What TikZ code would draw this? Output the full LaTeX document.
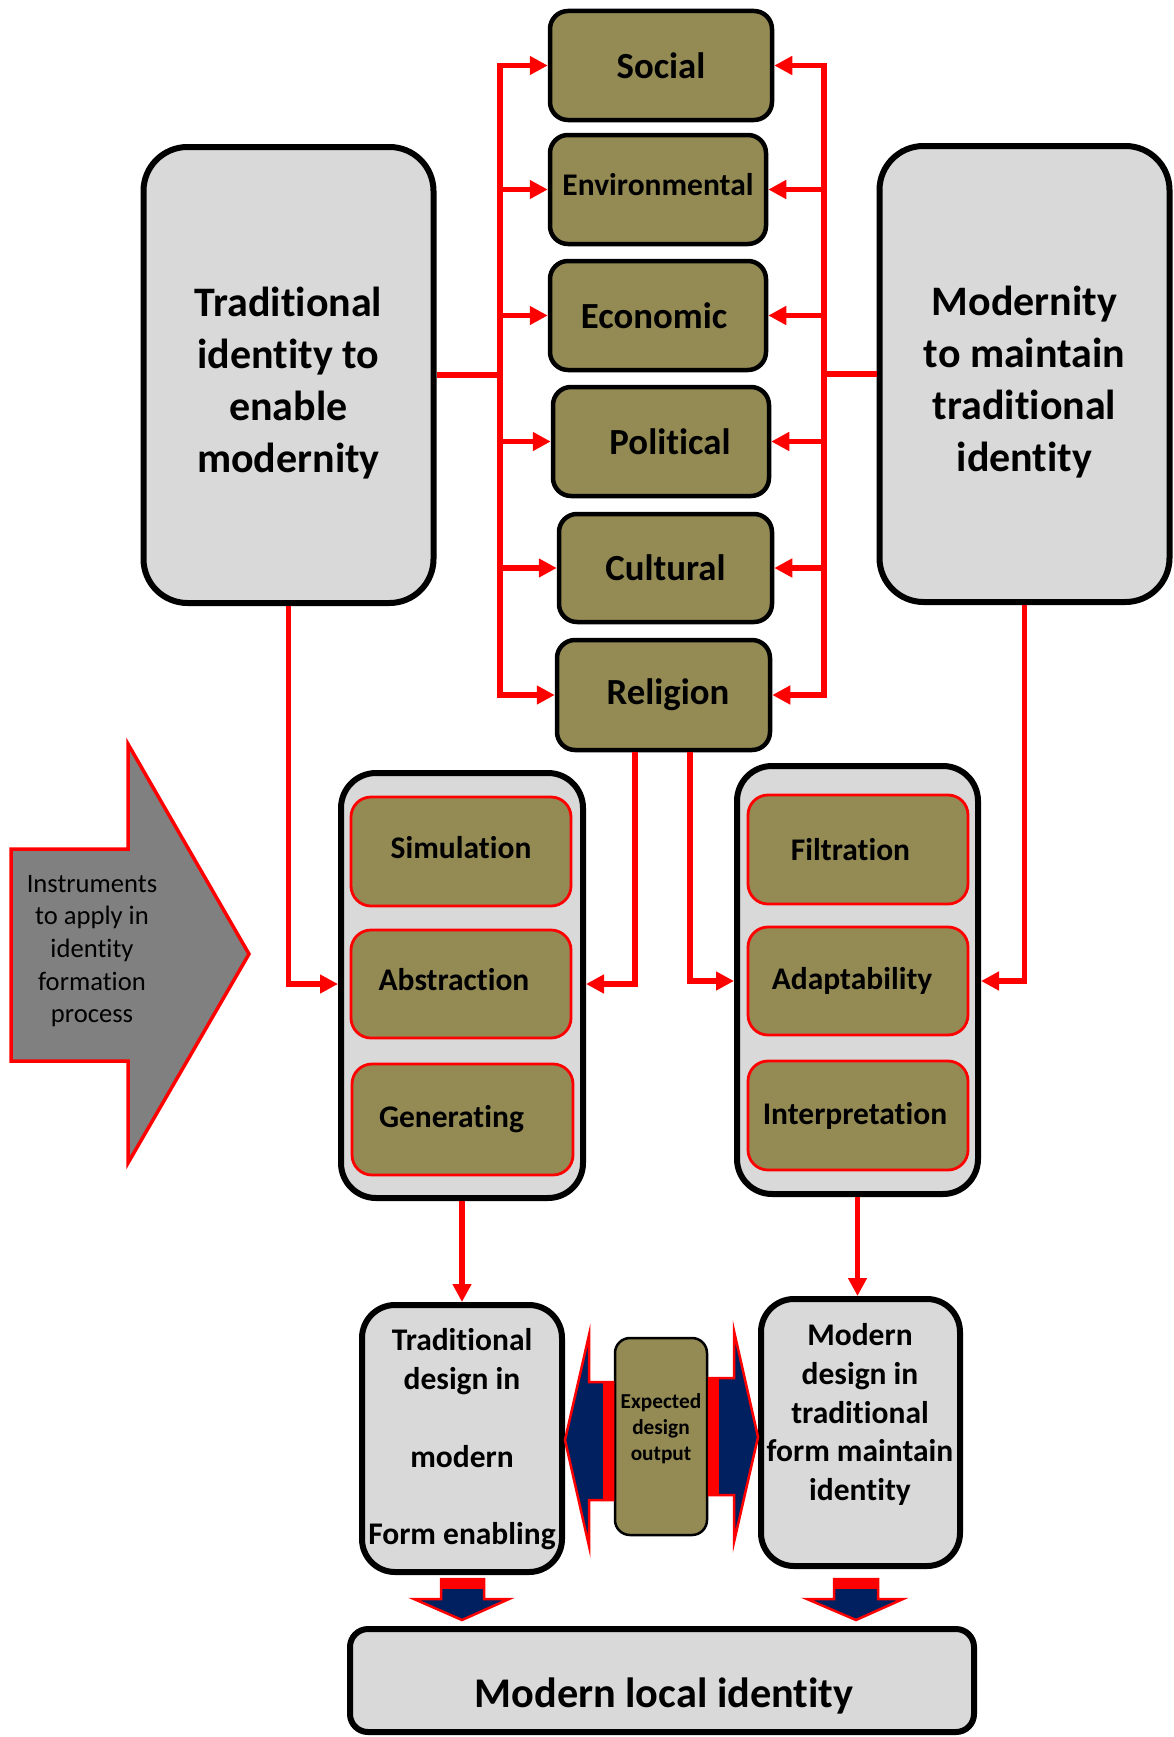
\documentclass[tikz,border=0pt]{standalone}
\usepackage{fontspec}
\setmainfont{Carlito}[Ligatures={NoCommon,NoRequired,NoContextual,NoRare}]
\usetikzlibrary{arrows.meta,calc}
\definecolor{boxolive}{HTML}{948A54}
\definecolor{boxgray}{HTML}{D9D9D9}
\definecolor{arrgray}{HTML}{808080}
\definecolor{navyfill}{HTML}{002060}
\begin{document}
\begin{tikzpicture}[x=1pt,y=-1pt,
  cat/.style={draw=black, line width=4.5pt, fill=boxolive, rounded corners=18pt, inner sep=0pt,
    font=\bfseries\fontsize{36.8}{44}\selectfont},
  bigbox/.style={draw=black, line width=6pt, fill=boxgray, rounded corners=44pt, inner sep=0pt},
  bigtext/.style={align=center, inner sep=0pt, font=\bfseries\fontsize{42}{52}\selectfont},
  grp/.style={draw=black, line width=6pt, fill=boxgray, rounded corners=35pt, inner sep=0pt},
  tool/.style={draw=red, line width=2.8pt, fill=boxolive, rounded corners=20pt, inner sep=0pt,
    font=\bfseries\fontsize{31.5}{38}\selectfont},
  outbox/.style={draw=black, line width=6pt, fill=boxgray, rounded corners=33pt, inner sep=0pt},
  outtext/.style={align=center, inner sep=0pt, font=\bfseries\fontsize{31.5}{38.8}\selectfont},
  rline/.style={draw=red, line width=5.5pt},
  rarrow/.style={rline, -{Triangle[length=18pt,width=18pt]}},
  rboth/.style={rline, {Triangle[length=18pt,width=18pt]}-{Triangle[length=18pt,width=18pt]}},
  blockarr/.style={draw=red, line width=2.5pt, fill=navyfill, line join=miter},
]
\useasboundingbox (0,0) rectangle (1174,1737);

% category boxes
\node[cat, minimum width=222, minimum height=109] (social) at (661,65.5) {\raisebox{-4pt}{Social}};
\node[cat, minimum width=216, minimum height=109, font=\bfseries\fontsize{31.5}{38}\selectfont] (env) at (658,189.5) {\raisebox{11pt}{Environmental}};
\node[cat, minimum width=216, minimum height=109] (econ) at (658,315.5) {Economic\hspace*{8pt}};
\node[cat, minimum width=216, minimum height=109] (polit) at (661,441.5) {\hspace*{18pt}Political};
\node[cat, minimum width=213, minimum height=108] (cult) at (665.5,568) {Cultural};
\node[cat, minimum width=213, minimum height=110] (relig) at (663.5,695) {\hspace*{9pt}Religion};

% the two main positions
\node[bigbox, minimum width=290, minimum height=456] (trad) at (288.5,375) {};
\node[bigtext] (tradtxt) at (288.5,383) {Traditional\\identity to\\enable\\modernity};
\node[bigbox, minimum width=290, minimum height=456] (modb) at (1024.5,374) {};
\node[bigtext] (modbtxt) at (1024.5,382) {Modernity\\to maintain\\traditional\\identity};

% instrument groups
\node[grp, minimum width=242, minimum height=425] (lgrp) at (462,985.5) {};
\node[grp, minimum width=241, minimum height=428] (rgrp) at (857.5,980) {};
\node[tool, minimum width=220, minimum height=109] (sim) at (461,851.5) {\raisebox{9pt}{Simulation}};
\node[tool, minimum width=220, minimum height=108] (abst) at (461,984) {\raisebox{9pt}{Abstraction}\hspace*{14pt}};
\node[tool, minimum width=221, minimum height=111] (gen) at (462.5,1119.5) {Generating\hspace*{22pt}};
\node[tool, minimum width=220, minimum height=109] (filt) at (858,849.5) {Filtration\hspace*{15pt}};
\node[tool, minimum width=220, minimum height=108] (adap) at (858,981) {Adaptability\hspace*{12pt}};
\node[tool, minimum width=220, minimum height=109] (interp) at (858,1115.5) {Interpretation\hspace*{6pt}};

% design outputs
\node[outbox, minimum width=200, minimum height=267] (tdes) at (462,1438.5) {};
\node[outtext] (tdestxt) at (462,1439.5) {Traditional\\design in\\~\\modern\\~\\Form enabling};
\node[outbox, minimum width=199, minimum height=267] (mdes) at (860.5,1432.5) {};
\node[outtext] (mdestxt) at (860,1414.5) {Modern\\design in\\traditional\\form maintain\\identity};
\node[draw=black, line width=2.5pt, fill=boxolive, rounded corners=15pt,
      minimum width=92, minimum height=197, inner sep=0pt] (expd) at (661,1436.5) {};
\node[align=center, inner sep=0pt, font=\bfseries\fontsize{21.3}{26}\selectfont] (expdtxt) at (661,1428.5)
  {Expected\\design\\output};

% final result
\node[draw=black, line width=6pt, fill=boxgray, rounded corners=18pt,
      minimum width=624, minimum height=103, inner sep=0pt] (local) at (662,1680.5) {};
\node[inner sep=0pt, font=\bfseries\fontsize{42.3}{50}\selectfont] (localtxt) at (664,1695.5) {Modern local identity};

% instruments arrow
\draw[draw=red, line width=3.5pt, fill=arrgray, line join=miter]
  (11,849) -- (128,849) -- (128,744) -- (249,954) -- (128,1163) -- (128,1061) -- (11,1061) -- cycle;
\node[align=center, inner sep=0pt, font=\fontsize{26.6}{32.6}\selectfont] (instr) at (92,951)
  {Instruments\\to apply in\\identity\\formation\\process};

% distribution buses
\coordinate (lbus) at (500,375);
\coordinate (rbus) at (824,374);
\draw[rline] (trad.east) -- (lbus);
\draw[rline] (modb.west) -- (rbus);
\draw[rboth, line join=miter] (social.west) -- (lbus |- social) -- (lbus |- relig) -- (relig.west);
\draw[rboth, line join=miter] (social.east) -- (rbus |- social) -- (rbus |- relig) -- (relig.east);
\foreach \b in {env,econ,polit,cult} {
  \draw[rarrow] (lbus |- \b) -- (\b.west);
  \draw[rarrow] (rbus |- \b) -- (\b.east);
}

% feeds into the instrument groups
\coordinate (relL) at (635,0);
\coordinate (relR) at (690,0);
\draw[rarrow, line join=miter] (trad.south) -- (trad.south |- abst) -- (lgrp.west |- abst);
\draw[rarrow, line join=miter] (relig.south -| relL) -- (relL |- abst) -- (lgrp.east |- abst);
\draw[rarrow, line join=miter] (relig.south -| relR) -- (relR |- adap) -- (rgrp.west |- adap);
\draw[rarrow, line join=miter] (modb.south) -- (modb.south |- adap) -- (rgrp.east |- adap);
\draw[rarrow] (lgrp.south) -- (tdes.north);
\draw[rarrow] (rgrp.south) -- (rgrp.south |- mdes.north);

% expected output block arrows
\draw[blockarr] (613,1382) -- (589,1382) -- (589,1335) -- (565,1440) -- (589,1546) -- (589,1500) -- (613,1500) -- cycle;
\fill[red] (603,1382) rectangle (613,1500);
\draw[blockarr] (709,1378) -- (734,1378) -- (734,1331) -- (758,1437) -- (734,1542) -- (734,1495) -- (709,1495) -- cycle;
\fill[red] (709,1378) rectangle (719,1495);

% down arrows into the final result
\draw[blockarr] (441,1579) -- (484,1579) -- (484,1599) -- (509,1599) -- (462,1620) -- (414,1599) -- (441,1599) -- cycle;
\fill[red] (441,1579) rectangle (484,1589);
\draw[blockarr] (834,1579) -- (878,1579) -- (878,1599) -- (903,1599) -- (856,1620) -- (807,1599) -- (834,1599) -- cycle;
\fill[red] (834,1579) rectangle (878,1589);
\end{tikzpicture}
\end{document}
